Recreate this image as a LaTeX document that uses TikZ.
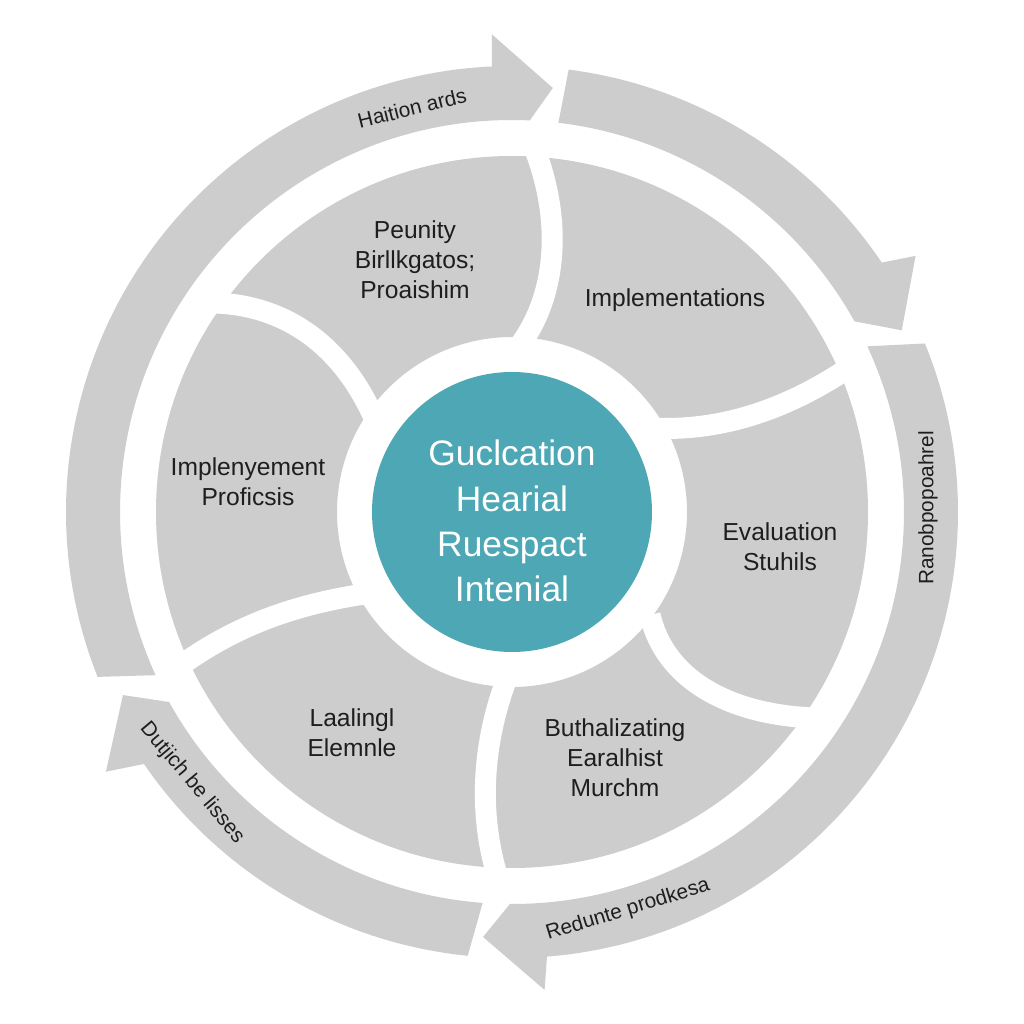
\documentclass[tikz,border=0pt]{standalone}
\usepackage{fontspec}
\setmainfont{Liberation Sans}
\definecolor{segGray}{RGB}{205,205,205}
\definecolor{ringGray}{RGB}{205,205,205}
\definecolor{tealFill}{RGB}{78,167,180}
\definecolor{txt}{RGB}{30,30,30}
\tikzset{
  sepline/.style={draw=white, line width=10.5pt},
  segtext/.style={text=txt, align=center, font=\fontsize{12.3pt}{15pt}\selectfont, inner sep=0pt},
  ringtext/.style={text=txt, font=\fontsize{10.4pt}{12pt}\selectfont, inner sep=0pt},
  centertext/.style={text=white, align=center, font=\fontsize{17.7pt}{22.6pt}\selectfont, inner sep=0pt}
}
\begin{document}
\begin{tikzpicture}[x=0.5pt,y=0.5pt]
\useasboundingbox (0,0) rectangle (1024,1024);
\fill[white] (0,0) rectangle (1024,1024);
\coordinate (C) at (512,512);
% segmented middle ring
\fill[segGray, even odd rule] (C) circle[radius=178pt] (C) circle[radius=87.5pt];
% separators
\draw[sepline] (535,874) .. controls (560,809) and (560,734) .. (520,679);
\draw[sepline] (650,596) .. controls (720,592) and (790,614) .. (860,664);
\draw[sepline] (650,409) .. controls (665,344) and (730,309) .. (815,306);
\draw[sepline] (520,376) .. controls (485,304) and (475,224) .. (497,149);
\draw[sepline] (180,358) .. controls (250,409) and (320,424) .. (378,432);
\draw[sepline] (215,721) .. controls (280,719) and (340,684) .. (375,604);
% centre disc
\fill[tealFill] (C) circle[radius=70pt];
% outer ring arrows
\begin{scope}[shift={(C)}]
\fill[ringGray] (201.7:223pt) arc[start angle=201.7, end angle=92.6, radius=223pt]
  -- (92.4:239pt) -- (84.5:213pt) -- (87.4:196pt)
  arc[start angle=87.4, end angle=204.6, radius=196pt] -- cycle;
\fill[ringGray] (82.7:223pt) arc[start angle=82.7, end angle=34.0, radius=223pt]
  -- (32.4:239pt) -- (25.0:215pt) -- (29.1:196pt)
  arc[start angle=29.1, end angle=83.2, radius=196pt] -- cycle;
\fill[ringGray] (22.2:223pt) arc[start angle=22.2, end angle=-85.5, radius=223pt]
  -- (-86.1:239.5pt) -- (-93.9:213pt) -- (-90.3:196pt)
  arc[start angle=-90.3, end angle=25.0, radius=196pt] -- cycle;
\fill[ringGray] (-95.7:223pt) arc[start angle=-95.7, end angle=-145.6, radius=223pt]
  -- (-147.4:241pt) -- (-154.8:215pt) -- (-151.0:196pt)
  arc[start angle=-151.0, end angle=-94.3, radius=196pt] -- cycle;
\end{scope}
% ring labels
\node[ringtext, rotate=14] (lab1) at (412,916) {Haition ards};
\node[ringtext, rotate=90] (lab2) at (928,516) {Ranobpopoahrel};
\node[ringtext, rotate=17] (lab3) at (628,114) {Redunte prodkesa};
\node[ringtext, rotate=-50] (lab4) at (192,241) {Dutjich be lisses};
% segment labels
\node[segtext] (s1) at (415,764) {Peunity\\Birllkgatos;\\Proaishim};
\node[segtext] (s2) at (675,724) {Implementations};
\node[segtext] (s3) at (780,477) {Evaluation\\Stuhils};
\node[segtext] (s4) at (615,266) {Buthalizating\\Earalhist\\Murchm};
\node[segtext] (s5) at (352,291) {Laalingl\\Elemnle};
\node[segtext] (s6) at (248,542) {Implenyement\\Proficsis};
% centre label
\node[centertext] (core) at (512,503) {Guclcation\\Hearial\\Ruespact\\Intenial};
\end{tikzpicture}
\end{document}
